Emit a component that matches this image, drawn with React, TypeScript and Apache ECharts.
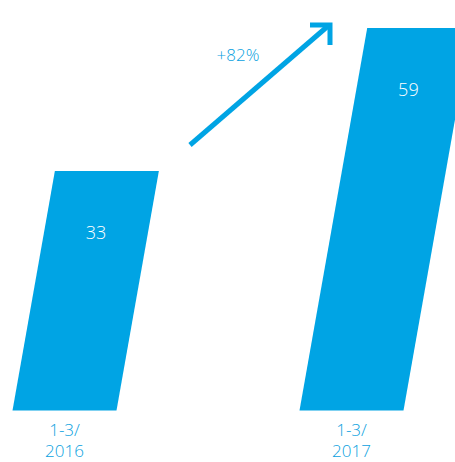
import React, { useEffect, useRef } from "react";
import * as echarts from "echarts";

const categories = ["1-3/\n2016", "1-3/\n2017"];
const values = [33, 59];
const changeLabel = "+82%";

const BLUE = "#00a4e4";
const TEXT_BLUE = "#0a9fe0";
const SLANT = 0.177;
const BAR_W = 104;

export default function App() {
  const ref = useRef<HTMLDivElement>(null);
  useEffect(() => {
    const chart = echarts.init(ref.current!, null, { renderer: "svg" });
    chart.setOption({
      animation: false,
      grid: {
        left: 64.5,
        right: 455 - 351.5,
        top: 28,
        bottom: 51.5,
        outerBoundsMode: "none",
        containLabel: false,
      },
      xAxis: {
        type: "category",
        data: categories,
        boundaryGap: false,
        axisLine: { show: false },
        axisTick: { show: false },
        axisLabel: {
          color: TEXT_BLUE,
          fontFamily: "Open Sans",
          fontWeight: 300,
          fontSize: 17,
          lineHeight: 21,
          margin: 8,
        },
      },
      yAxis: {
        type: "value",
        min: -10.5,
        max: 59,
        show: false,
        splitLine: { show: false },
      },
      series: [
        {
          type: "custom",
          data: values.map((v, i) => [i, v]),
          renderItem: (params: any, api: any) => {
            const idx = api.value(0);
            const val = api.value(1);
            const base = api.coord([idx, -10.5]);
            const top = api.coord([idx, val]);
            const h = base[1] - top[1];
            const off = h * SLANT;
            const x0 = base[0] - BAR_W / 2;
            const x1 = base[0] + BAR_W / 2;
            const ly = top[1] + 61;
            const lx = base[0] + (base[1] - ly) * SLANT;
            return {
              type: "group",
              children: [
                {
                  type: "polygon",
                  shape: {
                    points: [
                      [x0, base[1]],
                      [x1, base[1]],
                      [x1 + off, top[1]],
                      [x0 + off, top[1]],
                    ],
                  },
                  style: { fill: BLUE },
                },
                {
                  type: "text",
                  x: lx,
                  y: ly,
                  style: {
                    text: String(val),
                    fill: "#ffffff",
                    fontFamily: "Open Sans",
                    fontWeight: 300,
                    fontSize: 18,
                    align: "center",
                    verticalAlign: "middle",
                  },
                },
              ],
            };
          },
        },
      ],
      graphic: [
        {
          type: "line",
          shape: { x1: 190, y1: 145, x2: 328, y2: 26 },
          style: { stroke: BLUE, lineWidth: 5 },
        },
        {
          type: "polyline",
          shape: { points: [[310, 25], [330, 25], [330, 45]] },
          style: { stroke: BLUE, lineWidth: 5, fill: "none", lineJoin: "miter" },
        },
        {
          type: "text",
          x: 238,
          y: 54,
          style: {
            text: changeLabel,
            fill: TEXT_BLUE,
            fontFamily: "Open Sans",
            fontWeight: 300,
            fontSize: 17,
            align: "center",
            verticalAlign: "middle",
          },
        },
      ],
    });
    return () => chart.dispose();
  }, []);
  return <div ref={ref} style={{ width: 455, height: 462, position: "absolute", left: 0, top: 0 }} />;
}
